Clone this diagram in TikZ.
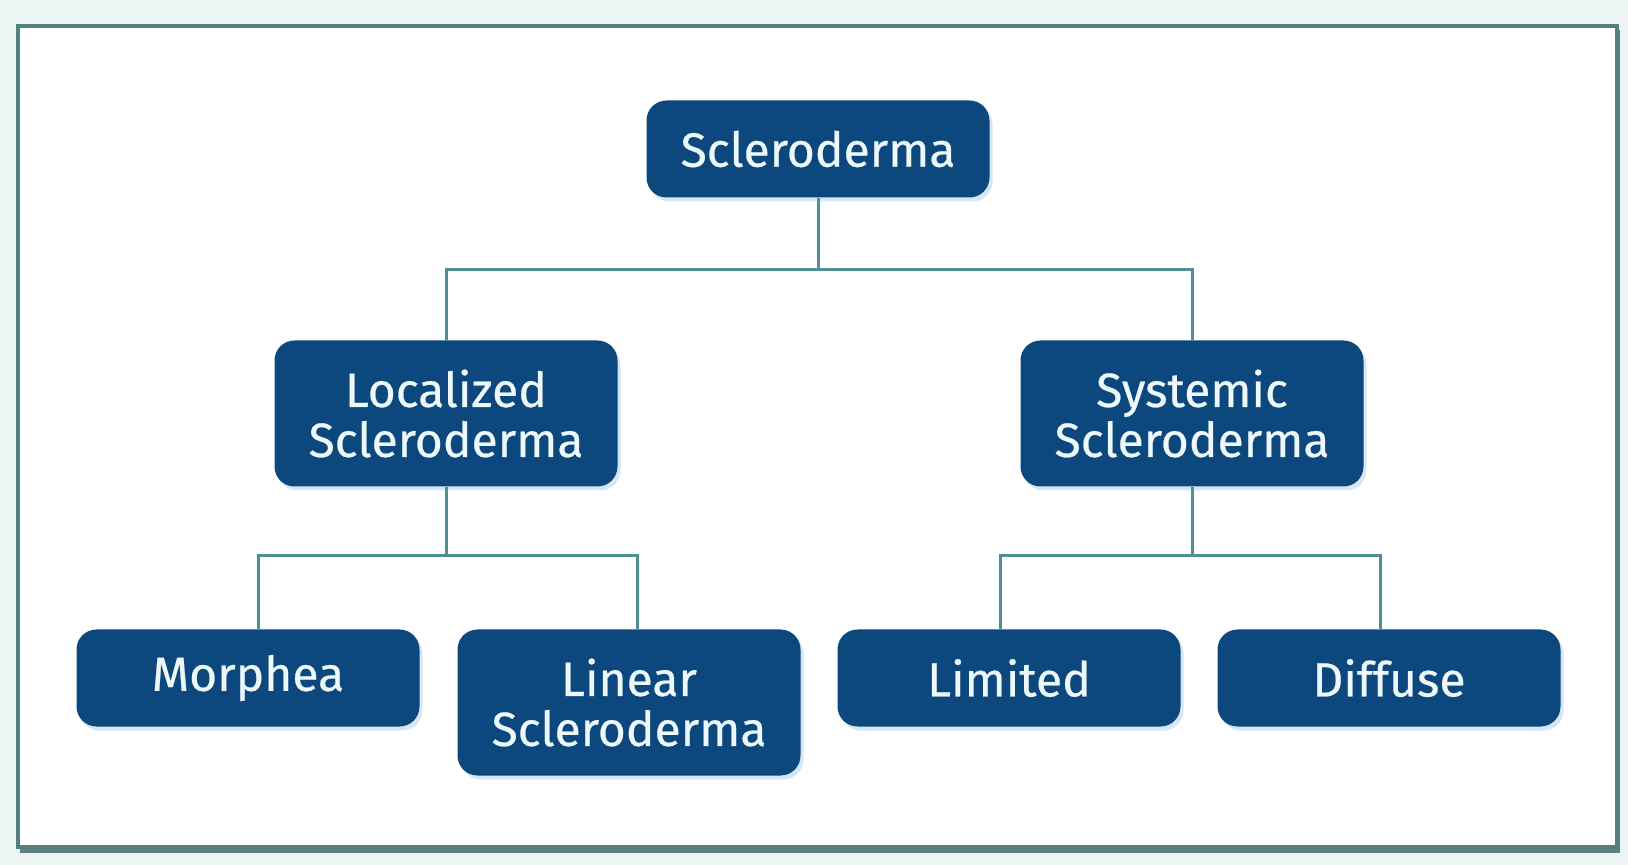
\documentclass[tikz,border=0pt]{standalone}
\usepackage{fontspec}
\setmainfont{Fira Sans}
\newfontfamily\boxfont{Fira Sans}[FakeBold=0.5]
\usepackage{tikz}
\usetikzlibrary{shadows}
\definecolor{boxblue}{RGB}{12,72,126}
\definecolor{linkteal}{RGB}{78,145,148}
\definecolor{frameteal}{RGB}{82,128,128}
\definecolor{outerbg}{RGB}{236,244,244}
\definecolor{textpale}{RGB}{236,248,250}
\definecolor{glowblue}{RGB}{196,222,240}

\begin{document}
\begin{tikzpicture}[x=0.5pt,y=-0.5pt,
    box/.style={fill=boxblue,text=textpale,rounded corners=10pt,
        minimum width=171.5pt,minimum height=48.5pt,align=center,
        font=\boxfont\fontsize{24}{25}\selectfont,inner sep=0pt,
        drop shadow={shadow xshift=1.5pt,shadow yshift=-2pt,fill=glowblue,opacity=0.7}},
    tallbox/.style={box,minimum height=73pt},
    link/.style={draw=linkteal,line width=1.5pt}]
    \useasboundingbox (0,0) rectangle (1628,865);

    % Frame
    \fill[outerbg] (0,0) rectangle (1628,865);
    \fill[frameteal!70!gray] (20,30) rectangle (1620,853);
    \draw[frameteal,line width=1.6pt,fill=white] (18,26) rectangle (1617,847);

    % Bus lines
    \coordinate (busa) at (0,270);
    \coordinate (busb) at (0,556);

    % Nodes
    \node[box] (scl) at (818,149) {Scleroderma};
    \node[tallbox] (loc) at (446,413.5) {Localized\\Scleroderma};
    \node[tallbox] (sys) at (1192,413.5) {Systemic\\Scleroderma};
    \node[box] (mor) at (248,678) {Morphea};
    \node[tallbox] (lin) at (629,702.5) {Linear\\Scleroderma};
    \node[box] (lim) at (1009,678) {Limited};
    \node[box] (dif) at (1389,678) {Diffuse};

    % Connectors
    \draw[link] (scl.south) -- (busa -| scl.south);
    \draw[link] (loc.north) |- (busa -| scl.south) -| (sys.north);
    \draw[link] (loc.south) -- (busb -| loc.south);
    \draw[link] ([xshift=5pt]mor.north) |- (busb -| loc.south) -| ([xshift=4pt]lin.north);
    \draw[link] (sys.south) -- (busb -| sys.south);
    \draw[link] ([xshift=-4.5pt]lim.north) |- (busb -| sys.south) -| ([xshift=-4.5pt]dif.north);
\end{tikzpicture}
\end{document}
